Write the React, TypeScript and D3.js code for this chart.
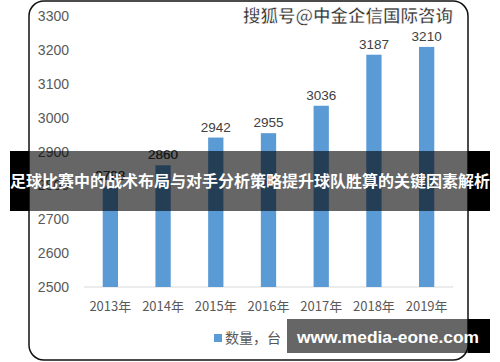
import React from "react";
import * as d3 from "d3";

const categories = ["2013年", "2014年", "2015年", "2016年", "2017年", "2018年", "2019年"];
const values = [2798, 2860, 2942, 2955, 3036, 3187, 3210];
const yTicks = [2500, 2600, 2700, 2800, 2900, 3000, 3100, 3200, 3300];
const seriesName = "数量，台";
const watermark = "搜狐号@中金企信国际咨询";
const bannerTitle = "足球比赛中的战术布局与对手分析策略提升球队胜算的关键因素解析";
const siteText = "www.media-eone.com";

const W = 500;
const H = 362;
const FONT = "'Liberation Sans', 'Noto Sans CJK SC', sans-serif";
const CJK = "'Noto Sans CJK SC', sans-serif";

export default function App() {
  const x = d3.scaleBand<string>().domain(categories).range([84, 453]).paddingInner(0.71).paddingOuter(0.355);
  const y = d3.scaleLinear().domain([2500, 3300]).range([287, 16.5]);
  const blue = "#5b9bd5";
  const textCol = "#595959";
  const bTop = 151;
  const bBot = 211;

  return (
    <svg width={W} height={H} style={{ position: "absolute", left: 0, top: 0 }} fontFamily={FONT}>
      <defs>
        <clipPath id="bannerClip">
          <rect x={29} y={bTop} width={439} height={bBot - bTop} />
        </clipPath>
      </defs>
      <rect x={0} y={0} width={W} height={H} fill="#fff" />
      <rect x={29} y={1} width={439} height={359} rx={15} ry={15} fill="#fff" stroke="#111" strokeWidth={1.5} />
      {yTicks.map((t) => (
        <text key={t} x={69} y={y(t)} dy="0.35em" textAnchor="end" fontSize={14} fill={textCol}>
          {t}
        </text>
      ))}
      <line x1={84} x2={453} y1={y(2500)} y2={y(2500)} stroke="#d9d9d9" strokeWidth={1} />
      {categories.map((c, i) => (
        <g key={c}>
          <rect x={x(c)} y={y(values[i])} width={x.bandwidth()} height={y(2500) - y(values[i])} fill={blue} />
          <text x={(x(c) as number) + x.bandwidth() / 2} y={y(values[i]) - 6} textAnchor="middle" fontSize={13.5} fill="#404040">
            {values[i]}
          </text>
          <text x={(x(c) as number) + x.bandwidth() / 2} y={306} dy="0.35em" textAnchor="middle" fontSize={13} fill={textCol} fontFamily={CJK}>
            {c}
          </text>
        </g>
      ))}
      <rect x={214} y={334} width={8} height={8} fill={blue} />
      <text x={225} y={338} dy="0.35em" fontSize={14} fill={textCol} fontFamily={CJK}>
        {seriesName}
      </text>
      <text x={453} y={16} dy="0.35em" textAnchor="end" fontSize={17.5} fontWeight="bold" fill="#333" stroke="#fff" strokeWidth={0.6} fontFamily={CJK} textLength={210} lengthAdjust="spacingAndGlyphs">
        {watermark}
      </text>
      {/* banner: black outside the card, translucent over the card */}
      <rect x={10} y={bTop} width={19} height={bBot - bTop} fill="#000" />
      <rect x={468} y={bTop} width={22} height={bBot - bTop} fill="#000" />
      <g clipPath="url(#bannerClip)">
        <rect x={29} y={bTop} width={439} height={bBot - bTop} fill="#000" fillOpacity={0.6} />
      </g>
      {categories.map((c, i) => {
        const ly = y(values[i]) - 6;
        return ly > bTop + 8 && ly < bBot + 4 ? (
          <text key={c} x={(x(c) as number) + x.bandwidth() / 2} y={ly} textAnchor="middle" fontSize={13.5} fill="#1a1a1a" clipPath="url(#bannerClip)">
            {values[i]}
          </text>
        ) : null;
      })}
      <text x={250} y={182} dy="0.35em" textAnchor="middle" fontSize={15.5} fontWeight="bold" fill="#fff" fontFamily={CJK} textLength={480} lengthAdjust="spacingAndGlyphs">
        {bannerTitle}
      </text>
      {/* site box */}
      <rect x={468} y={319} width={22} height={34} fill="#000" />
      <rect x={287} y={319} width={181} height={34} fill="#000" fillOpacity={0.6} />
      <text x={297} y={337} dy="0.35em" fontSize={17} fontWeight="bold" fill="#fff" fontFamily="'Liberation Sans', sans-serif" textLength={182} lengthAdjust="spacingAndGlyphs">
        {siteText}
      </text>
    </svg>
  );
}
